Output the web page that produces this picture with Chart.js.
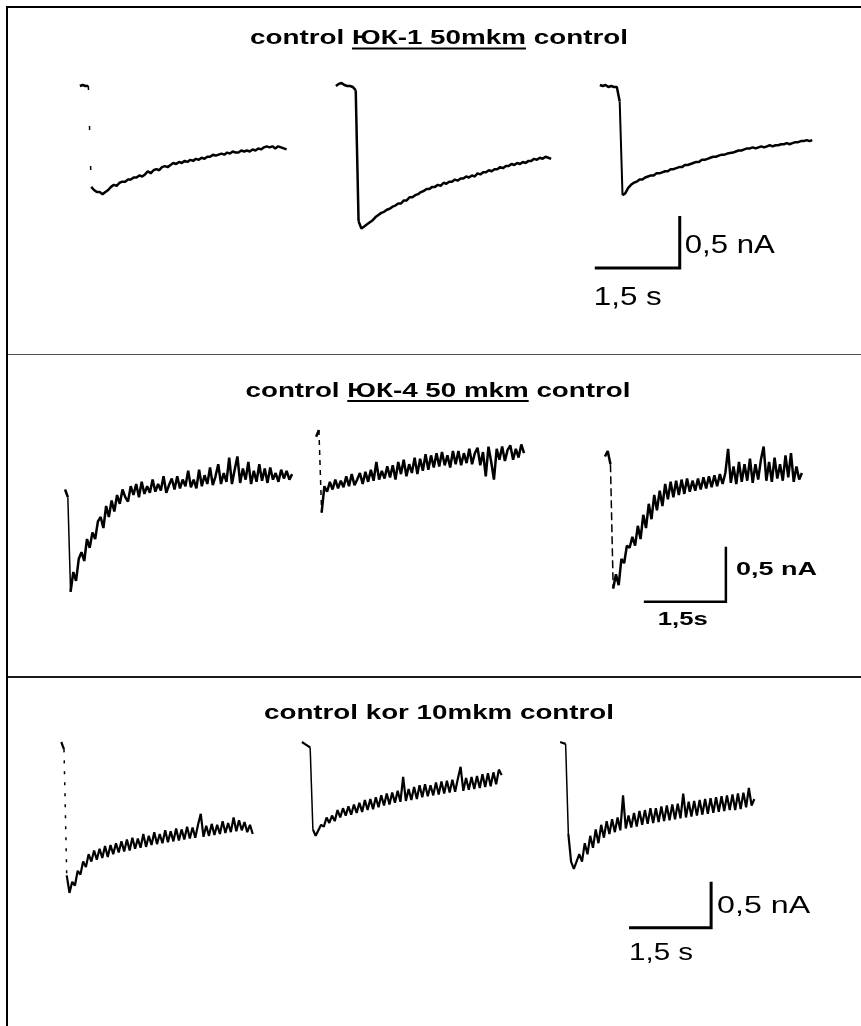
<!DOCTYPE html>
<html>
<head>
<meta charset="utf-8">
<script src="https://cdn.jsdelivr.net/npm/chart.js@4.4.1/dist/chart.umd.min.js"></script>
<style>
  html, body { margin:0; padding:0; background:#fff; }
  body { position:relative; width:861px; height:1026px; overflow:hidden; }
  #frame { position:absolute; left:6px; top:6px; width:855px; height:1020px; border-left:2px solid #000; border-top:2px solid #000; box-sizing:border-box; }
  .sep { position:absolute; left:8px; width:853px; }
  .panel { position:absolute; left:0; }
</style>
</head>
<body>
<div id="frame"></div>
<div class="sep" style="top:354px;height:1px;background:#505050"></div>
<div class="sep" style="top:676px;height:2px;background:#1a1a1a"></div>
<canvas id="p1" class="panel" width="861" height="354" style="top:0"></canvas>
<canvas id="p2" class="panel" width="861" height="324" style="top:354px"></canvas>
<canvas id="p3" class="panel" width="861" height="348" style="top:678px"></canvas>
<script>
// ---------------- DATA ----------------
const DT = 0.05;            // sampling interval of every trace, s
const BAR_TIME = 1.5;       // time scale bar, s
const BAR_CURRENT = 0.5;    // current scale bar, nA

const panelTitles = [
  ['control ', 'ЮК-1 50mkm', ' control'],
  ['control ', 'ЮК-4 50 mkm', ' control'],
  ['control kor 10mkm control', '', '']
];
const timeBarLabels = ['1,5 s', '1,5s', '1,5 s'];
const currentBarLabels = ['0,5 nA', '0,5 nA', '0,5 nA'];

// Panel 1: control / ЮК-1 50mkm / control  (current, nA)
const p1Starts = [1.41, 5.93, 10.59];
const p1a = [0, 0.01, 0, 0,
  -0.97, -1.0, -1.02, -1.02, -1.04, -1.02, -1.0, -0.97, -0.95, -0.96,
  -0.93, -0.92, -0.92, -0.9, -0.9, -0.88, -0.88, -0.86, -0.87, -0.85,
  -0.82, -0.84, -0.81, -0.8, -0.81, -0.78, -0.77, -0.78, -0.76, -0.74,
  -0.75, -0.73, -0.74, -0.72, -0.73, -0.71, -0.72, -0.7, -0.71, -0.69,
  -0.7, -0.68, -0.68, -0.66, -0.67, -0.66, -0.65, -0.66, -0.64, -0.65,
  -0.63, -0.64, -0.64, -0.62, -0.63, -0.62, -0.63, -0.61, -0.62, -0.6,
  -0.61, -0.59, -0.58, -0.59, -0.58, -0.6, -0.58, -0.59, -0.6, -0.61];
const p1b = [0, 0.02, 0.03, 0.01, 0, 0, -0.01, -0.04,
  -1.3, -1.37, -1.35, -1.33, -1.31, -1.29, -1.26, -1.24, -1.22, -1.21,
  -1.19, -1.18, -1.16, -1.15, -1.13, -1.13, -1.1, -1.1, -1.07, -1.07,
  -1.05, -1.04, -1.02, -1.01, -0.99, -0.99, -0.97, -0.97, -0.95, -0.96,
  -0.93, -0.94, -0.92, -0.92, -0.9, -0.91, -0.89, -0.89, -0.87, -0.88,
  -0.86, -0.87, -0.84, -0.85, -0.83, -0.83, -0.81, -0.82, -0.8, -0.8,
  -0.78, -0.79, -0.77, -0.77, -0.75, -0.76, -0.74, -0.75, -0.73, -0.74,
  -0.72, -0.72, -0.7, -0.71, -0.69, -0.7, -0.68, -0.69, -0.7];
const p1c = [0.01, 0, 0.01, -0.01, 0, -0.01, -0.01, -0.15,
  -1.05, -1.03, -0.98, -0.95, -0.93, -0.92, -0.9, -0.9, -0.88, -0.87,
  -0.86, -0.86, -0.84, -0.84, -0.83, -0.82, -0.82, -0.8, -0.8, -0.79,
  -0.78, -0.78, -0.76, -0.76, -0.75, -0.74, -0.73, -0.73, -0.71, -0.71,
  -0.7, -0.69, -0.68, -0.68, -0.67, -0.66, -0.66, -0.65, -0.645, -0.64,
  -0.63, -0.62, -0.62, -0.61, -0.6, -0.6, -0.59, -0.6, -0.59, -0.58,
  -0.59, -0.58, -0.57, -0.58, -0.57, -0.57, -0.56, -0.56, -0.55, -0.56,
  -0.55, -0.54, -0.54, -0.53, -0.53, -0.52, -0.53, -0.52];
const p1Bar = [10.5, -1.75];   // [time s, current nA] of scale-bar corner

// Panel 2: control / ЮК-4 50 mkm / control
const p2Starts = [1.19, 5.78, 11.06];
const p2a = [-0.45, -0.52, -1.38, -1.2, -1.28, -1.08, -1.02, -1.1, -0.9, -0.98,
  -0.84, -0.9, -0.74, -0.7, -0.8, -0.6, -0.7, -0.55, -0.65, -0.5,
  -0.58, -0.45, -0.52, -0.56, -0.42, -0.5, -0.4, -0.52, -0.38, -0.49,
  -0.42, -0.48, -0.36, -0.47, -0.4, -0.46, -0.33, -0.48, -0.41, -0.35,
  -0.45, -0.33, -0.44, -0.36, -0.42, -0.28, -0.43, -0.36, -0.44, -0.27,
  -0.42, -0.32, -0.4, -0.25, -0.41, -0.33, -0.22, -0.4, -0.3, -0.38,
  -0.16, -0.4, -0.27, -0.15, -0.39, -0.26, -0.36, -0.2, -0.4, -0.28,
  -0.38, -0.22, -0.37, -0.26, -0.39, -0.25, -0.36, -0.3, -0.38, -0.27,
  -0.35, -0.28, -0.36, -0.31];
const p2b = [0.03, 0.09, -0.66, -0.42, -0.47, -0.38, -0.45, -0.36, -0.44, -0.37,
  -0.43, -0.33, -0.42, -0.31, -0.41, -0.36, -0.3, -0.4, -0.29, -0.38,
  -0.27, -0.37, -0.2, -0.36, -0.28, -0.35, -0.24, -0.34, -0.23, -0.36,
  -0.2, -0.31, -0.18, -0.33, -0.22, -0.3, -0.16, -0.31, -0.17, -0.28,
  -0.13, -0.27, -0.14, -0.25, -0.12, -0.24, -0.11, -0.23, -0.14, -0.25,
  -0.1, -0.22, -0.1, -0.23, -0.12, -0.21, -0.08, -0.22, -0.12, -0.07,
  -0.23, -0.11, -0.33, -0.06, -0.2, -0.36, -0.08, -0.18, -0.06, -0.19,
  -0.09, -0.05, -0.18, -0.08, -0.16, -0.04, -0.12];
const p2c = [-0.15, -0.1, -0.22, -1.35, -1.22, -1.32, -1.08, -1.12, -0.96, -0.98,
  -0.88, -0.96, -0.78, -0.9, -0.68, -0.8, -0.58, -0.72, -0.5, -0.64,
  -0.46, -0.6, -0.4, -0.54, -0.38, -0.52, -0.37, -0.5, -0.36, -0.49,
  -0.35, -0.47, -0.37, -0.46, -0.35, -0.45, -0.34, -0.44, -0.33, -0.43,
  -0.32, -0.42, -0.31, -0.4, -0.3, -0.08, -0.39, -0.24, -0.4, -0.2,
  -0.38, -0.22, -0.37, -0.17, -0.39, -0.22, -0.36, -0.18, -0.06, -0.37,
  -0.2, -0.38, -0.16, -0.35, -0.22, -0.37, -0.14, -0.34, -0.12, -0.38,
  -0.24, -0.36, -0.3];
const p2Bar = [11.77, -1.47];

// Panel 3: control / kor 10mkm / control
const p3Starts = [1.12, 5.52, 10.24];
const p3a = [0, -0.08, -1.45, -1.64, -1.52, -1.56, -1.4, -1.44, -1.3, -1.36,
  -1.22, -1.3, -1.18, -1.28, -1.16, -1.26, -1.13, -1.25, -1.12, -1.22,
  -1.1, -1.2, -1.08, -1.19, -1.06, -1.18, -1.04, -1.16, -1.05, -1.15,
  -1.0, -1.14, -1.02, -1.12, -0.98, -1.11, -1.0, -1.1, -0.96, -1.09,
  -0.97, -1.08, -0.94, -1.07, -0.95, -1.06, -0.92, -1.05, -0.93, -1.04,
  -0.9, -0.78, -1.03, -0.91, -1.02, -0.89, -1.01, -0.9, -1.0, -0.86,
  -0.99, -0.88, -0.98, -0.82, -0.97, -0.85, -0.96, -0.87, -0.98, -0.9,
  -1.0];
const p3b = [0, -0.02, -0.04, -0.06, -0.95, -1.02, -0.96, -0.9, -0.92, -0.82,
  -0.88, -0.8, -0.86, -0.74, -0.82, -0.72, -0.8, -0.7, -0.79, -0.68,
  -0.77, -0.66, -0.76, -0.63, -0.74, -0.62, -0.73, -0.6, -0.71, -0.58,
  -0.69, -0.56, -0.68, -0.55, -0.66, -0.53, -0.65, -0.38, -0.64, -0.51,
  -0.63, -0.49, -0.62, -0.47, -0.6, -0.46, -0.59, -0.47, -0.58, -0.44,
  -0.57, -0.43, -0.56, -0.42, -0.55, -0.41, -0.54, -0.4, -0.27, -0.53,
  -0.39, -0.52, -0.38, -0.51, -0.37, -0.5, -0.35, -0.49, -0.34, -0.48,
  -0.33, -0.46, -0.3, -0.36];
const p3c = [0, -0.01, -0.02, -1.0, -1.3, -1.38, -1.3, -1.22, -1.3, -1.1,
  -1.22, -1.02, -1.15, -0.95, -1.1, -0.9, -1.04, -0.86, -1.0, -0.84,
  -0.98, -0.82, -0.96, -0.58, -0.94, -0.8, -0.93, -0.77, -0.92, -0.75,
  -0.9, -0.74, -0.89, -0.72, -0.88, -0.72, -0.87, -0.7, -0.86, -0.69,
  -0.85, -0.68, -0.84, -0.67, -0.83, -0.56, -0.82, -0.65, -0.81, -0.64,
  -0.8, -0.63, -0.79, -0.62, -0.78, -0.61, -0.77, -0.6, -0.76, -0.59,
  -0.75, -0.58, -0.74, -0.57, -0.74, -0.56, -0.73, -0.55, -0.71, -0.5,
  -0.69, -0.62];
const p3Bar = [11.5, -2.02];

// ---------------- STYLE / LAYOUT ----------------
const FONT = '"Liberation Sans", Arial, Helvetica, sans-serif';
const panels = [
  { id: 'p1', starts: p1Starts, traces: [p1a, p1b, p1c], bar: p1Bar, n: 0,
    xMax: 15.2, yMin: -2.577, yMax: 0.827, lw: 2.5, barW: 3,
    drops: [{ dash: [4, 36], w: 1.5 }, { dash: [], w: 2.5 }, { dash: [], w: 2 }],
    titleFont: 'bold 21px ' + FONT, titleCx: 439, titleW: 378, titleBase: 43.5, ul: { dy: 4, h: 2 },
    labelFont: '25px ' + FONT, iDx: 5, iDy: -15, iW: 90, tDx: -1, tDy: 37, tW: 68 },
  { id: 'p2', starts: p2Starts, traces: [p2a, p2b, p2c], bar: p2Bar, n: 1,
    xMax: 15.74, yMin: -2.1636, yMax: 0.7818, lw: 2.5, barW: 2.5,
    drops: [{ dash: [], w: 1.5 }, { dash: [5, 5], w: 1.5 }, { dash: [8, 4], w: 1.5 }],
    titleFont: 'bold 21px ' + FONT, titleCx: 438, titleW: 385, titleBase: 43, ul: { dy: 3, h: 2 },
    labelFont: 'bold 18px ' + FONT, iDx: 10, iDy: -27, iW: 81, tDx: 14, tDy: 23, tW: 50 },
  { id: 'p3', starts: p3Starts, traces: [p3a, p3b, p3c], bar: p3Bar, n: 2,
    xMax: 15.74, yMin: -3.087, yMax: 0.6957, lw: 2.2, barW: 3,
    drops: [{ dash: [3, 8], w: 1.5 }, { dash: [], w: 1.5 }, { dash: [], w: 1.5 }],
    titleFont: 'bold 21px ' + FONT, titleCx: 439, titleW: 350, titleBase: 40.5, ul: null,
    labelFont: '23px ' + FONT, iDx: 6, iDy: -15, iW: 93, tDx: 0, tDy: 32, tW: 64 }
];

function stretchText(ctx, parts, font, left, baseline, width, ul) {
  ctx.font = font;
  const full = parts.join('');
  const nat = ctx.measureText(full).width;
  const s = width / nat;
  ctx.save();
  ctx.translate(left, baseline);
  ctx.scale(s, 1);
  ctx.textAlign = 'left';
  ctx.textBaseline = 'alphabetic';
  ctx.fillText(full, 0, 0);
  if (ul && parts[1]) {
    const x0 = ctx.measureText(parts[0]).width;
    const w = ctx.measureText(parts[1]).width;
    ctx.fillRect(x0, ul.dy, w, ul.h);
  }
  ctx.restore();
}

function isDrop(c) {
  return c.p0DataIndex < 8 && (c.p1.parsed.y - c.p0.parsed.y) < -0.5;
}

panels.forEach(st => {
  const datasets = st.traces.map((vals, k) => ({
    data: vals.map((v, i) => ({ x: st.starts[k] + i * DT, y: v })),
    showLine: true,
    borderColor: '#000',
    borderWidth: st.lw,
    pointRadius: 0,
    borderJoinStyle: 'bevel',
    borderCapStyle: 'butt',
    segment: {
      borderDash: c => isDrop(c) ? st.drops[k].dash : undefined,
      borderWidth: c => isDrop(c) ? st.drops[k].w : undefined
    }
  }));
  datasets.push({
    data: [
      { x: st.bar[0], y: st.bar[1] },
      { x: st.bar[0] + BAR_TIME, y: st.bar[1] },
      { x: st.bar[0] + BAR_TIME, y: st.bar[1] + BAR_CURRENT }
    ],
    showLine: true, borderColor: '#000', borderWidth: st.barW, pointRadius: 0,
    borderJoinStyle: 'miter', borderCapStyle: 'butt'
  });

  const annotate = {
    id: 'annotate' + st.n,
    afterDatasetsDraw(chart) {
      const { ctx } = chart;
      const xs = chart.scales.x, ys = chart.scales.y;
      ctx.save();
      ctx.fillStyle = '#000';
      stretchText(ctx, panelTitles[st.n], st.titleFont, st.titleCx - st.titleW / 2, st.titleBase, st.titleW, st.ul);
      const bx0 = xs.getPixelForValue(st.bar[0]);
      const bx1 = xs.getPixelForValue(st.bar[0] + BAR_TIME);
      const by = ys.getPixelForValue(st.bar[1]);
      stretchText(ctx, [currentBarLabels[st.n]], st.labelFont, bx1 + st.iDx, by + st.iDy, st.iW);
      stretchText(ctx, [timeBarLabels[st.n]], st.labelFont, bx0 + st.tDx, by + st.tDy, st.tW);
      ctx.restore();
    }
  };

  new Chart(document.getElementById(st.id), {
    type: 'scatter',
    data: { datasets },
    options: {
      responsive: false, animation: false, devicePixelRatio: 1, events: [],
      layout: { padding: 0 },
      plugins: { legend: { display: false }, tooltip: { enabled: false }, title: { display: false } },
      scales: {
        x: { type: 'linear', display: false, min: 0, max: st.xMax },
        y: { type: 'linear', display: false, min: st.yMin, max: st.yMax }
      },
      elements: { line: { tension: 0 } }
    },
    plugins: [annotate]
  });
});
</script>
</body>
</html>
